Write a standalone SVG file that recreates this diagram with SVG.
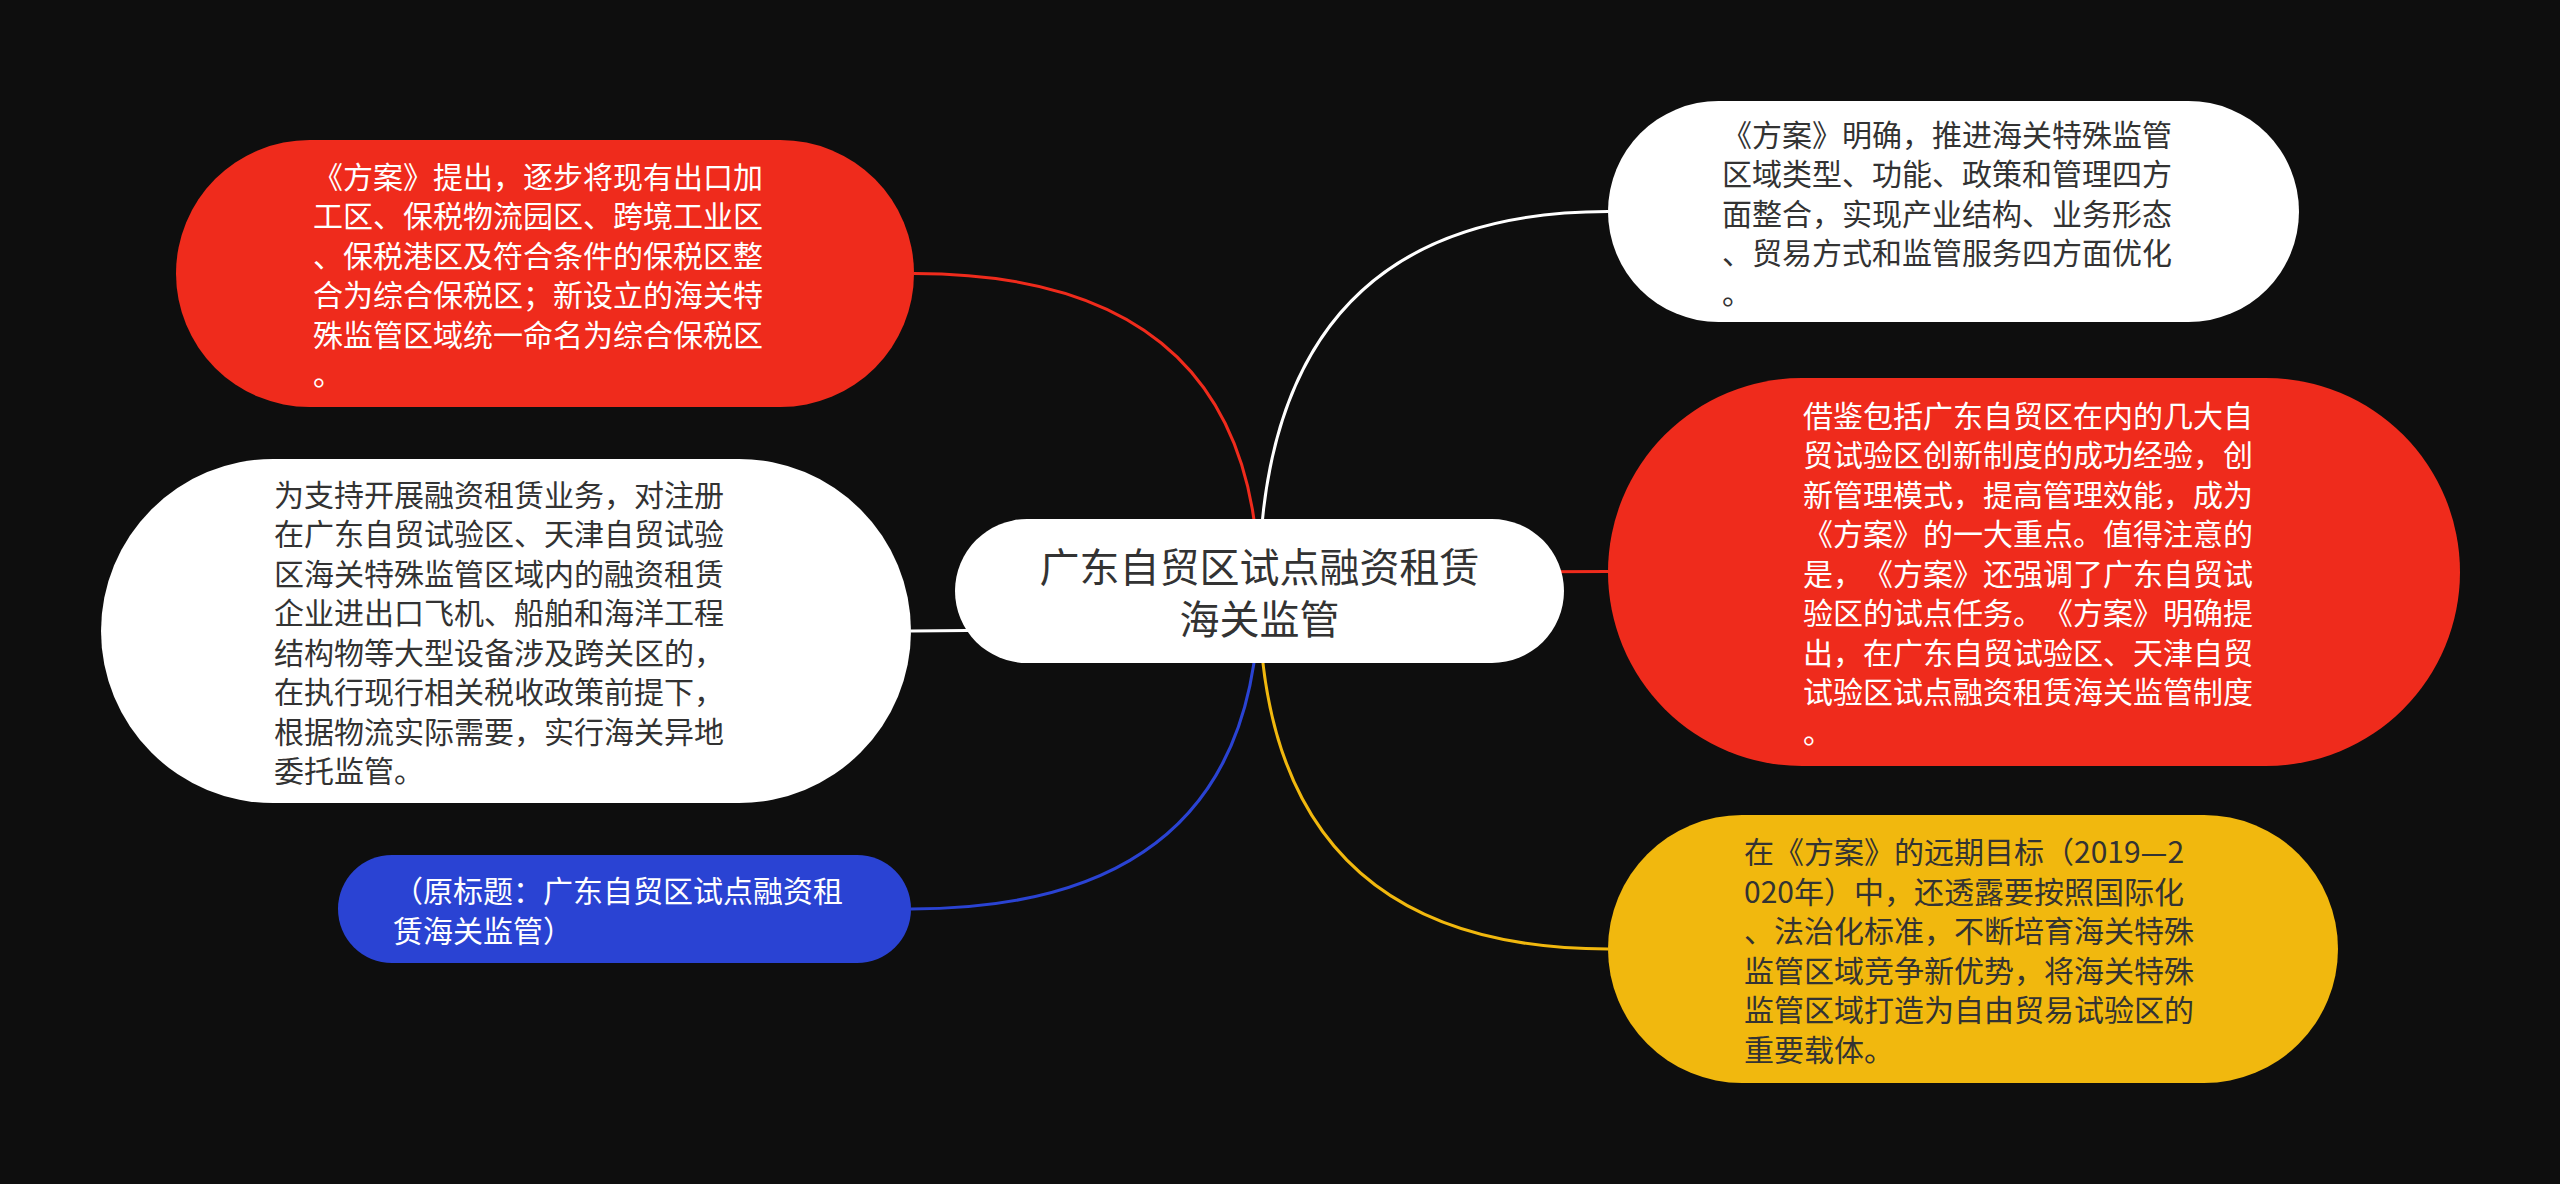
<svg xmlns="http://www.w3.org/2000/svg" width="2560" height="1184" viewBox="0 0 2560 1184">
<style>
text{font-family:"Noto Sans CJK SC","Noto Sans",sans-serif;dominant-baseline:central;font-feature-settings:"chws" 0,"halt" 0,"palt" 0;text-spacing-trim:space-all}
.t{font-size:30px}
.w{fill:#ffffff}
.d{fill:#333333}
.c{font-size:40px;fill:#333333;text-anchor:middle}
.ln{fill:none;stroke-width:3}
</style>
<rect width="2560" height="1184" fill="#0e0e0e"/>
<g id="connectors">
<path class="ln" stroke="#ef2b1c" d="M1259,591 Q1259,273.5 914,273.5"/>
<path class="ln" stroke="#ffffff" d="M1259,591 Q1259,631 911,631"/>
<path class="ln" stroke="#2a43d3" d="M1259,591 Q1259,909 911,909"/>
<path class="ln" stroke="#ffffff" d="M1259,591 Q1259,211.5 1608,211.5"/>
<path class="ln" stroke="#ef2b1c" d="M1259,591 Q1259,571.5 1608,571.5"/>
<path class="ln" stroke="#f1b80e" d="M1259,591 Q1259,949 1608,949"/>
</g>
<g id="center">
<rect x="955" y="519" width="609" height="144" rx="72" fill="#ffffff"/>
<text class="c" x="1259.5" y="565">广东自贸区试点融资租赁</text>
<text class="c" x="1259.5" y="617">海关监管</text>
</g>
<g id="node1">
<rect x="176" y="140" width="738" height="267" rx="133.5" fill="#ef2b1c"/>
<text class="t w" x="313" y="174.75">《方案》提出，逐步将现有出口加</text>
<text class="t w" x="313" y="214.25">工区、保税物流园区、跨境工业区</text>
<text class="t w" x="313" y="253.75">、保税港区及符合条件的保税区整</text>
<text class="t w" x="313" y="293.25">合为综合保税区；新设立的海关特</text>
<text class="t w" x="313" y="332.75">殊监管区域统一命名为综合保税区</text>
<text class="t w" x="313" y="372.25">。</text>
</g>
<g id="node2">
<rect x="101" y="459" width="810" height="344" rx="172" fill="#ffffff"/>
<text class="t d" x="274" y="492.75">为支持开展融资租赁业务，对注册</text>
<text class="t d" x="274" y="532.25">在广东自贸试验区、天津自贸试验</text>
<text class="t d" x="274" y="571.75">区海关特殊监管区域内的融资租赁</text>
<text class="t d" x="274" y="611.25">企业进出口飞机、船舶和海洋工程</text>
<text class="t d" x="274" y="650.75">结构物等大型设备涉及跨关区的，</text>
<text class="t d" x="274" y="690.25">在执行现行相关税收政策前提下，</text>
<text class="t d" x="274" y="729.75">根据物流实际需要，实行海关异地</text>
<text class="t d" x="274" y="769.25">委托监管。</text>
</g>
<g id="node3">
<rect x="338" y="855" width="573" height="108" rx="54" fill="#2a43d3"/>
<text class="t w" x="393" y="889.25">（原标题：广东自贸区试点融资租</text>
<text class="t w" x="393" y="928.75">赁海关监管）</text>
</g>
<g id="node4">
<rect x="1608" y="101" width="691" height="221" rx="110.5" fill="#ffffff"/>
<text class="t d" x="1722" y="132.5">《方案》明确，推进海关特殊监管</text>
<text class="t d" x="1722" y="172">区域类型、功能、政策和管理四方</text>
<text class="t d" x="1722" y="211.5">面整合，实现产业结构、业务形态</text>
<text class="t d" x="1722" y="251">、贸易方式和监管服务四方面优化</text>
<text class="t d" x="1722" y="290.5">。</text>
</g>
<g id="node5">
<rect x="1608" y="378" width="852" height="388" rx="194" fill="#ef2b1c"/>
<text class="t w" x="1803" y="413.5">借鉴包括广东自贸区在内的几大自</text>
<text class="t w" x="1803" y="453">贸试验区创新制度的成功经验，创</text>
<text class="t w" x="1803" y="492.5">新管理模式，提高管理效能，成为</text>
<text class="t w" x="1803" y="532">《方案》的一大重点。值得注意的</text>
<text class="t w" x="1803" y="571.5">是，《方案》还强调了广东自贸试</text>
<text class="t w" x="1803" y="611">验区的试点任务。《方案》明确提</text>
<text class="t w" x="1803" y="650.5">出，在广东自贸试验区、天津自贸</text>
<text class="t w" x="1803" y="690">试验区试点融资租赁海关监管制度</text>
<text class="t w" x="1803" y="729.5">。</text>
</g>
<g id="node6">
<rect x="1608" y="815" width="730" height="268" rx="134" fill="#f1b80e"/>
<text class="t d" x="1744" y="850.25">在《方案》的远期目标（2019—2</text>
<text class="t d" x="1744" y="889.75">020年）中，还透露要按照国际化</text>
<text class="t d" x="1744" y="929.25">、法治化标准，不断培育海关特殊</text>
<text class="t d" x="1744" y="968.75">监管区域竞争新优势，将海关特殊</text>
<text class="t d" x="1744" y="1008.25">监管区域打造为自由贸易试验区的</text>
<text class="t d" x="1744" y="1047.75">重要载体。</text>
</g>
</svg>
